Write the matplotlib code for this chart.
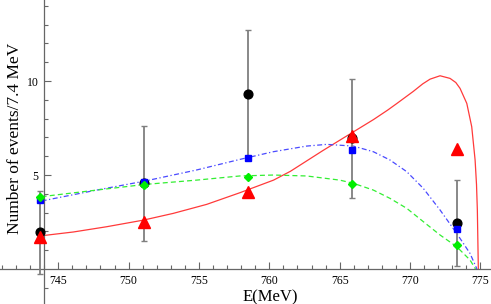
import matplotlib.pyplot as plt
from matplotlib.ticker import MultipleLocator, FixedLocator

plt.rcParams["font.family"] = ["Liberation Serif", "DejaVu Serif"]

# bin centres (7.4 MeV bins)
e_bins = [743.7, 751.1, 758.5, 765.9, 773.3]

# measured events and errors
data_y = [1.95, 4.55, 9.3, 6.95, 2.45]
data_err = [2.2, 3.05, 3.4, 3.15, 2.3]

# model values in each bin
red_pts = [1.7, 2.52, 4.1, 7.07, 6.38]
blue_pts = [3.67, 4.63, 5.9, 6.33, 2.13]
green_pts = [3.83, 4.47, 4.9, 4.52, 1.28]

# model curves
red_x = [743.7, 746.07, 748.44, 751.04, 753.17, 755.55, 757.91, 760.3,
         761.5, 762.65, 763.8, 765.0, 766.2, 767.4, 768.4, 769.05, 770.23,
         770.9, 771.42, 772.13, 772.84, 773.25, 773.55, 774.03, 774.38,
         774.62, 774.72, 774.78, 774.85]
red_y = [1.76, 1.97, 2.25, 2.6, 2.96, 3.44, 4.06, 4.73,
         5.2, 5.75, 6.3, 6.85, 7.4, 7.95, 8.45, 8.8, 9.45,
         9.85, 10.1, 10.28, 10.14, 9.92, 9.61, 8.81, 7.57,
         5.8, 4.5, 3.14, 0.0]

blue_x = [743.82, 747.73, 751.16, 754.84, 757.9, 760.28, 762.65, 764.07,
          765.97, 767.39, 768.57, 769.76, 770.94, 772.13, 773.31, 774.26,
          774.75]
blue_y = [3.62, 4.2, 4.68, 5.27, 5.83, 6.24, 6.54, 6.63,
          6.54, 6.24, 5.8, 5.18, 4.29, 3.14, 1.9, 0.83,
          0.0]

green_x = [743.82, 747.73, 751.16, 754.84, 757.9, 760.28, 762.65, 765.0,
           765.97, 767.39, 768.57, 769.76, 770.94, 772.13, 773.31, 774.26,
           774.65]
green_y = [3.85, 4.2, 4.5, 4.73, 4.95, 5.0, 4.95, 4.73,
           4.56, 4.2, 3.76, 3.23, 2.52, 1.81, 1.19, 0.48,
           0.0]

fig = plt.figure(figsize=(4.91, 3.04), dpi=100)
ax = fig.add_axes([0, 0, 1, 1])

ax.plot(red_x, red_y, color="#ff3a3a", lw=0.9)
ax.plot(blue_x, blue_y, color="#4a4aff", lw=0.9, dashes=(4, 2, 1, 2))
ax.plot(green_x, green_y, color="#33ee33", lw=0.9, dashes=(4, 2.5))

ax.errorbar(e_bins, data_y, yerr=data_err, fmt="none", ecolor="#7f7f7f",
            elinewidth=1.3, capsize=2.5, capthick=1.0, zorder=3)
ax.plot(e_bins, data_y, "o", color="black", ms=6.3, zorder=4)
ax.plot(e_bins, blue_pts, "s", color="blue", ms=5, zorder=5)
ax.plot(e_bins, green_pts, "D", color="#00ee00", ms=3.8, zorder=5)
ax.plot(e_bins, red_pts, "^", color="red", ms=8, zorder=6)

ax.set_xlim(740.86, 775.75)
ax.set_ylim(-1.86, 14.31)

for s in ["top", "right"]:
    ax.spines[s].set_visible(False)
ax.spines["left"].set_position(("data", 744))
ax.spines["bottom"].set_position(("data", 0))
for s in ["left", "bottom"]:
    ax.spines[s].set_color("#666666")
    ax.spines[s].set_linewidth(0.9)

ax.xaxis.set_major_locator(FixedLocator([745, 750, 755, 760, 765, 770, 775]))
ax.xaxis.set_minor_locator(MultipleLocator(1))
ax.yaxis.set_major_locator(FixedLocator([5, 10]))
ax.yaxis.set_minor_locator(FixedLocator([-1, 1, 2, 3, 4, 6, 7, 8, 9, 11, 12, 13, 14]))
ax.tick_params(which="both", direction="in", color="#666666", width=0.8,
               labelsize=8.5, pad=4)
ax.tick_params(which="major", length=5)
ax.tick_params(which="minor", length=3)

fig.text(0.55, 0.023, "E(MeV)", ha="center", va="center", fontsize=12)
fig.text(0.031, 0.545, "Number of events/7.4 MeV", ha="center", va="center",
         rotation=90, fontsize=12.5)

fig.savefig("out.png", dpi=100)
